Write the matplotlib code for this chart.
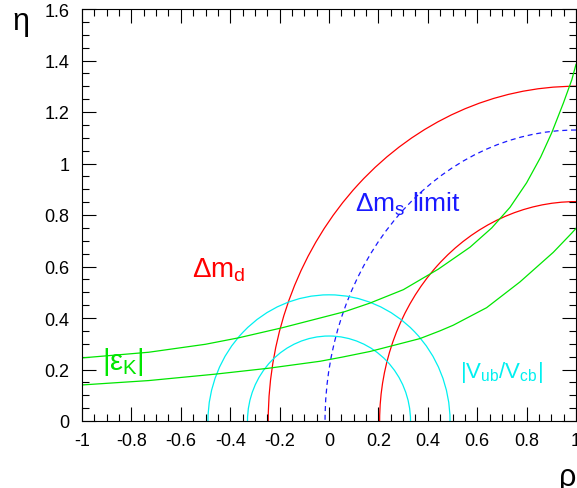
import numpy as np
import matplotlib
matplotlib.use('Agg')
import matplotlib.pyplot as plt
from matplotlib.patches import Arc
from matplotlib.ticker import MultipleLocator, FuncFormatter

plt.rcParams['font.family'] = ['Liberation Sans', 'DejaVu Sans']
plt.rcParams['axes.unicode_minus'] = False
plt.rcParams['mathtext.fontset'] = 'custom'
plt.rcParams['mathtext.rm'] = 'Liberation Sans'
plt.rcParams['mathtext.it'] = 'Liberation Sans'

# Delta m_d band: half-ellipses around (rho, eta) = (1, 0)
dmd_center = (1.0, 0.0)
dmd_semi_rho = [1.246, 0.795]
dmd_semi_eta = [1.30, 0.852]

# Delta m_s limit
dms_semi_rho = 1.016
dms_semi_eta = 1.13

# |Vub/Vcb| circles around the origin
vub_center = (0.0, 0.0)
vub_radius = [0.33, 0.49]

# |eps_K| hyperbolas
epsk_up_rho = [-1.0, -0.73, -0.5, -0.366, -0.19, -0.036, 0.065, 0.166, 0.301,
               0.443, 0.571, 0.659, 0.733, 0.80, 0.857, 0.902, 0.949, 0.983, 1.0]
epsk_up_eta = [0.245, 0.267, 0.298, 0.323, 0.362, 0.40, 0.425, 0.458, 0.51,
               0.59, 0.675, 0.75, 0.83, 0.925, 1.025, 1.12, 1.235, 1.325, 1.385]
epsk_lo_rho = [-1.0, -0.73, -0.46, -0.244, -0.036, 0.053, 0.166, 0.368, 0.449,
               0.503, 0.638, 0.773, 0.908, 0.983, 1.0]
epsk_lo_eta = [0.14, 0.157, 0.182, 0.205, 0.232, 0.248, 0.27, 0.32, 0.35,
               0.372, 0.44, 0.54, 0.655, 0.73, 0.748]

red = '#ff0000'
green = '#00e600'
cyan = '#00f0f0'
blue = '#1a1aff'

W, H = 577, 489
fig = plt.figure(figsize=(W/100, H/100), dpi=100)
ax = fig.add_axes([82/W, 1-422/H, (576-82)/W, (422-10)/H])

lw = 0.9
for a, b in zip(dmd_semi_rho, dmd_semi_eta):
    ax.add_patch(Arc(dmd_center, 2*a, 2*b, theta1=90, theta2=180, color=red, lw=lw))
ax.add_patch(Arc(dmd_center, 2*dms_semi_rho, 2*dms_semi_eta, theta1=90, theta2=180,
                 color=blue, lw=lw, linestyle=(0, (4, 3))))
for r in vub_radius:
    ax.add_patch(Arc(vub_center, 2*r, 2*r, theta1=0, theta2=180, color=cyan, lw=lw))
ax.plot(epsk_up_rho, epsk_up_eta, color=green, lw=lw)
ax.plot(epsk_lo_rho, epsk_lo_eta, color=green, lw=lw)

ax.set_xlim(-1, 1)
ax.set_ylim(0, 1.6)
fmt = FuncFormatter(lambda v, p: '%g' % round(v, 3))
ax.xaxis.set_major_locator(MultipleLocator(0.2))
ax.xaxis.set_minor_locator(MultipleLocator(0.05))
ax.yaxis.set_major_locator(MultipleLocator(0.2))
ax.yaxis.set_minor_locator(MultipleLocator(0.05))
ax.xaxis.set_major_formatter(fmt)
ax.yaxis.set_major_formatter(fmt)
ax.tick_params(which='both', direction='in', top=True, right=True, labelsize=13, width=0.8)
ax.tick_params(which='major', length=10)
ax.tick_params(which='minor', length=5)
ax.tick_params(axis='x', pad=8)
ax.tick_params(axis='y', pad=9)

ax.text(-0.555, 0.563, r'$\Delta$m$_\mathregular{d}$', color=red, fontsize=20)
ax.text(0.105, 0.817, r'$\Delta$m$_\mathregular{s}$ limit', color=blue, fontsize=19)
ax.text(-0.92, 0.2, r'|$\varepsilon_\mathregular{K}$|', color=green, fontsize=21)
ax.text(0.53, 0.17, r'|V$_\mathregular{ub}$/V$_\mathregular{cb}$|', color=cyan, fontsize=16)

fig.text(12/W, 1-30/H, 'η', fontsize=22)
fig.text(576/W, 1-486/H, 'ρ', fontsize=22, ha='right')

fig.savefig('out.png', dpi=100)
